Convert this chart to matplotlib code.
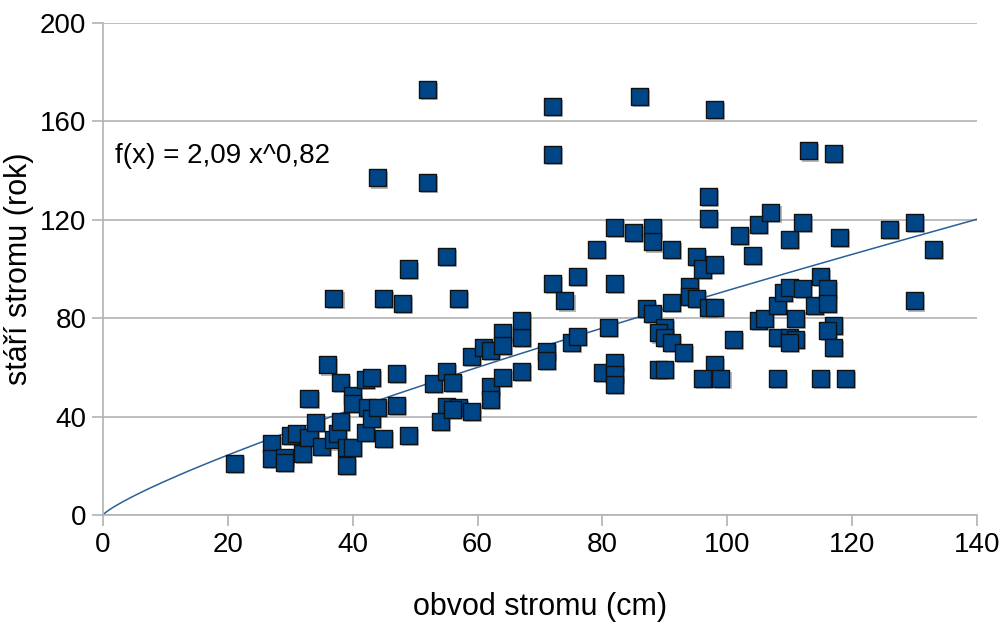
import matplotlib
matplotlib.use('agg')
import matplotlib.pyplot as plt
import matplotlib.patheffects as pe
import numpy as np

plt.rcParams['font.family'] = ['Liberation Sans', 'DejaVu Sans']

# circumference (cm) and age (years)
obvod = [21, 27, 27, 29, 29, 30, 31, 32, 33, 33, 34, 35, 36, 37, 37.6, 38, 38,
         39, 39, 40, 40, 40, 42, 42, 42.4, 43, 43, 44, 45, 47, 47, 49,
         37, 45, 48, 49, 55, 57, 44, 52, 52,
         53, 55, 56, 59, 61, 62, 64, 64, 67, 67, 71, 71,
         62, 62, 64, 67, 55, 54, 57, 59, 56,
         72, 72, 72, 76, 74, 75, 76, 81, 82, 79, 82, 85, 88, 88, 91,
         80, 82, 82, 82, 86, 98,
         87, 88, 90, 89, 90, 91, 91, 93, 94, 94, 95, 97, 98, 95, 96, 98, 97, 97,
         89, 90, 98, 96, 99,
         101, 102, 105, 107, 104, 110, 105, 106,
         108, 109, 110, 108, 110, 111, 110, 111, 108,
         112, 113, 117, 112, 114, 115, 116, 116, 117, 116, 117, 115, 119, 118,
         126, 130, 133, 130]
stari = [21, 29, 23, 23.5, 21.5, 32.5, 33, 25, 31.5, 47.5, 37.7, 28, 61, 30.5, 33.3, 54, 38,
         27.6, 20.3, 27.6, 48.7, 45.4, 55, 33.7, 43.8, 56, 39.4, 43.8, 31, 57.6, 44.6, 32.5,
         88, 88, 86, 100, 105, 88, 137, 135, 173,
         53.5, 58.4, 54, 64.5, 68, 67, 74, 69, 72, 79, 66.5, 63,
         52.3, 47, 56, 58.4, 44, 38, 43.8, 42.2, 43,
         166, 146.5, 94, 97, 87, 70, 72.6, 76.3, 94, 108, 117, 115, 117, 111, 108,
         58, 62, 57, 53, 170, 165,
         84, 82, 76.3, 74, 72, 70, 86.4, 66, 93, 89, 88, 84.4, 84.4, 105, 100, 102, 129.4, 120.5,
         59, 59, 61, 55.6, 55.6,
         71.4, 113.6, 118, 123, 105.5, 112, 79, 80,
         85, 90.5, 92.5, 72, 72, 71.4, 70, 80, 55.6,
         119, 148, 147, 92, 85, 97, 92, 86, 77, 75, 68, 55.6, 55.6, 113,
         116, 119, 108, 87]

# power trend line shown on the chart
koef_a = 2.09
koef_b = 0.82

fig = plt.figure(figsize=(10.03, 6.25), dpi=100)
ax = fig.add_axes([0.1027, 0.176, 0.8713, 0.7872])

xs = np.linspace(0, 140, 400)
ax.plot(xs, koef_a * xs ** koef_b, color='#2a6099', lw=1.1, zorder=2)

sc = ax.scatter(obvod, stari, s=150, marker='s', color='#004586',
                edgecolors='#111111', linewidths=1.0, zorder=3)
sc.set_path_effects([pe.SimplePatchShadow(offset=(1.5, -1.5), shadow_rgbFace='#888888', alpha=0.6),
                     pe.Normal()])

ax.set_xlim(0, 140)
ax.set_ylim(0, 200)
ax.set_xticks(np.arange(0, 141, 20))
ax.set_yticks(np.arange(0, 201, 40))
ax.grid(axis='y', color='#b3b3b3', lw=1.2)
ax.set_axisbelow(True)
for s in ['top', 'right']:
    ax.spines[s].set_visible(False)
for s in ['left', 'bottom']:
    ax.spines[s].set_color('#b3b3b3')
    ax.spines[s].set_linewidth(1.2)
ax.tick_params(direction='out', length=8, width=1.2, color='#b3b3b3',
               labelsize=20, pad=4)

ax.set_xlabel('obvod stromu (cm)', fontsize=22, labelpad=25)
ax.set_ylabel('stáří stromu (rok)', fontsize=22, labelpad=4)

ax.text(2, 146, 'f(x) = 2,09 x^0,82', fontsize=20, ha='left', va='center')

fig.savefig('out.png', dpi=100)
